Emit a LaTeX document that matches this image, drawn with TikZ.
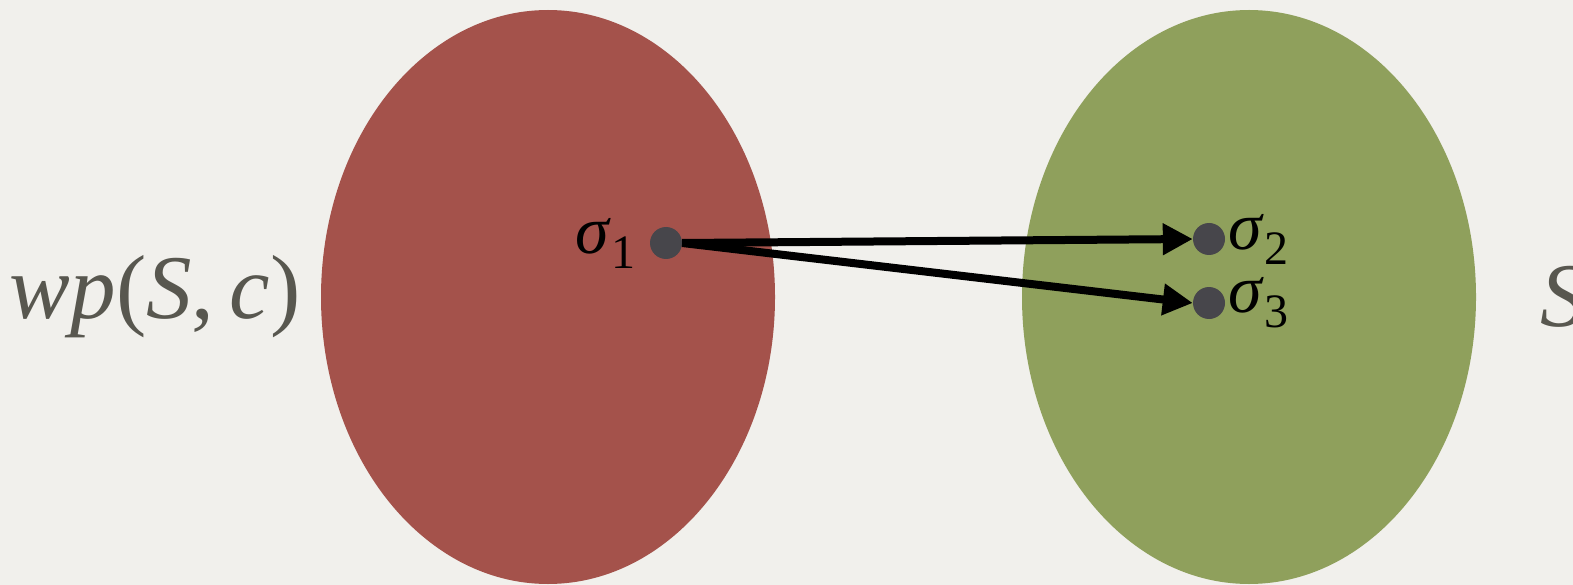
\documentclass[tikz,border=0pt]{standalone}
\usepackage{fontspec}
\setmainfont{Liberation Serif}
\usetikzlibrary{arrows.meta, positioning, shapes.geometric}

\definecolor{paper}{HTML}{F1F0EC}
\definecolor{preset}{HTML}{A4524B}
\definecolor{postset}{HTML}{8FA05C}
\definecolor{ink}{HTML}{58574F}
\definecolor{dotgray}{HTML}{47464B}

\newcommand{\sig}[1]{\textit{σ}\raisebox{-15pt}{\fontsize{48}{48}\selectfont #1}}

\begin{document}
\begin{tikzpicture}[
    x=1pt, y=-1pt,
    set/.style={ellipse, minimum width=454pt, minimum height=574pt, inner sep=0pt},
    state/.style={circle, fill=dotgray, minimum size=32pt, inner sep=0pt},
    lbl/.style={text=ink, inner sep=0pt, font=\fontsize{91}{100}\selectfont},
    slbl/.style={text=black, inner sep=0pt, font=\fontsize{68}{72}\selectfont},
    trans/.style={-{Triangle[length=30pt, width=30pt]}, line width=8pt}
]

% Background
\fill[paper] (0,0) rectangle (1573,585);
\useasboundingbox (0,0) rectangle (1573,585);

% Sets
\node[set, fill=preset] (pre) at (548,297) {};
\node[set, fill=postset] (post) at (1249,297) {};
\node[lbl, left=20pt of pre] (wp) {\textit{wp}(\textit{S},\,\textit{c})};
\node[lbl, right=64pt of post] (s) {\textit{S}};

% States
\node[state] (s1) at (666,243) {};
\node[state] (s2) at (1209,239) {};
\node[state] (s3) at (1209,303) {};
\node[slbl, left=14pt of s1] (l1) {\sig{1}};
\node[slbl, right=3pt of s2] (l2) {\sig{2}};
\node[slbl, right=3pt of s3] (l3) {\sig{3}};

% Transitions
\draw[trans] (s1.east) -- (s2.west);
\draw[trans] (s1.east) -- (s3.west);

\end{tikzpicture}
\end{document}
